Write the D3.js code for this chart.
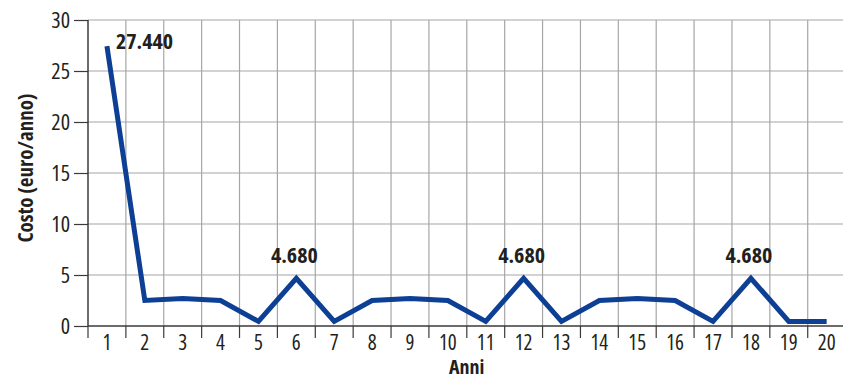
<!DOCTYPE html>
<html>
<head>
<meta charset="utf-8">
<script src="https://cdn.jsdelivr.net/npm/d3@7"></script>
<style>
  body { margin: 0; background: #fff; }
  text { font-family: "Open Sans", sans-serif; font-stretch: condensed; fill: #231f20; }
</style>
</head>
<body>
<div id="chart"></div>
<script>
var years = [1,2,3,4,5,6,7,8,9,10,11,12,13,14,15,16,17,18,19,20];
var costs = [27.44,2.5,2.7,2.5,0.45,4.68,0.45,2.5,2.7,2.5,0.45,4.68,0.45,2.5,2.7,2.5,0.45,4.68,0.45,0.45];
var peakLabels = [
  {year: 1, text: "27.440"},
  {year: 6, text: "4.680"},
  {year: 12, text: "4.680"},
  {year: 18, text: "4.680"}
];
var yTicks = [0,5,10,15,20,25,30];

var width = 843, height = 379;
var margin = {left: 88, top: 20, bottom: 53};

var svg = d3.select("#chart").append("svg")
    .attr("width", width)
    .attr("height", height);

var x = d3.scaleBand()
    .domain(years)
    .range([margin.left, margin.left + 20 * 37.88])
    .padding(0);

var y = d3.scaleLinear()
    .domain([0, 30])
    .range([height - margin.bottom, margin.top]);

// horizontal grid
svg.selectAll(".hgrid")
  .data(yTicks.filter(function(d) { return d > 0; }))
  .enter().append("line")
    .attr("class", "hgrid")
    .attr("x1", margin.left)
    .attr("x2", width)
    .attr("y1", function(d) { return y(d); })
    .attr("y2", function(d) { return y(d); })
    .attr("stroke", "#a6a6a6")
    .attr("stroke-width", 1.2);

// vertical grid at band edges
svg.selectAll(".vgrid")
  .data(years.slice(1))
  .enter().append("line")
    .attr("class", "vgrid")
    .attr("x1", function(d) { return x(d); })
    .attr("x2", function(d) { return x(d); })
    .attr("y1", y(30))
    .attr("y2", y(0))
    .attr("stroke", "#a6a6a6")
    .attr("stroke-width", 1.2);

// x axis ticks (at band edges) and labels (at band centres)
svg.selectAll(".xtick")
  .data(years)
  .enter().append("line")
    .attr("x1", function(d) { return x(d); })
    .attr("x2", function(d) { return x(d); })
    .attr("y1", y(0))
    .attr("y2", y(0) + 12)
    .attr("stroke", "#3a3a3a")
    .attr("stroke-width", 1.2);

svg.selectAll(".xlabel")
  .data(years)
  .enter().append("text")
    .attr("x", function(d) { return x(d) + x.bandwidth() / 2; })
    .attr("y", y(0) + 24)
    .attr("text-anchor", "middle")
    .attr("font-size", 21)
    .text(function(d) { return d; });

// y axis
var yAxis = d3.axisLeft(y)
    .tickValues(yTicks)
    .tickSize(14)
    .tickPadding(4);

var gy = svg.append("g")
    .attr("transform", "translate(" + margin.left + ",0)")
    .call(yAxis);
gy.select(".domain").remove();
gy.selectAll(".tick line").attr("stroke", "#3a3a3a").attr("stroke-width", 1.2);
gy.selectAll(".tick text")
    .attr("font-size", 22)
    .attr("fill", "#231f20");

svg.append("line")
    .attr("x1", margin.left).attr("x2", margin.left)
    .attr("y1", y(30)).attr("y2", y(0))
    .attr("stroke", "#3a3a3a").attr("stroke-width", 1.5);

svg.append("line")
    .attr("x1", margin.left).attr("x2", width)
    .attr("y1", y(0)).attr("y2", y(0))
    .attr("stroke", "#3a3a3a").attr("stroke-width", 1.5);

// line
var line = d3.line()
    .x(function(d, i) { return x(years[i]) + x.bandwidth() / 2; })
    .y(function(d) { return y(d); });

svg.append("path")
    .datum(costs)
    .attr("d", line)
    .attr("fill", "none")
    .attr("stroke", "#0d3f94")
    .attr("stroke-width", 5)
    .attr("stroke-linejoin", "miter");

// value labels
svg.selectAll(".peak")
  .data(peakLabels)
  .enter().append("text")
    .attr("x", function(d) {
      var cx = x(d.year) + x.bandwidth() / 2;
      return d.year === 1 ? cx + 9 : cx - 2;
    })
    .attr("y", function(d) { return d.year === 1 ? 49 : y(costs[d.year - 1]) - 15; })
    .attr("text-anchor", function(d) { return d.year === 1 ? "start" : "middle"; })
    .attr("font-size", 22)
    .attr("font-weight", "bold")
    .text(function(d) { return d.text; });

// axis titles
svg.append("text")
    .attr("transform", "translate(33,168)rotate(-90)")
    .attr("text-anchor", "middle")
    .attr("font-size", 21)
    .attr("font-weight", "bold")
    .text("Costo (euro/anno)");

svg.append("text")
    .attr("x", margin.left + 10 * 37.88)
    .attr("y", 374)
    .attr("text-anchor", "middle")
    .attr("font-size", 20)
    .attr("font-weight", "bold")
    .text("Anni");
</script>
</body>
</html>
